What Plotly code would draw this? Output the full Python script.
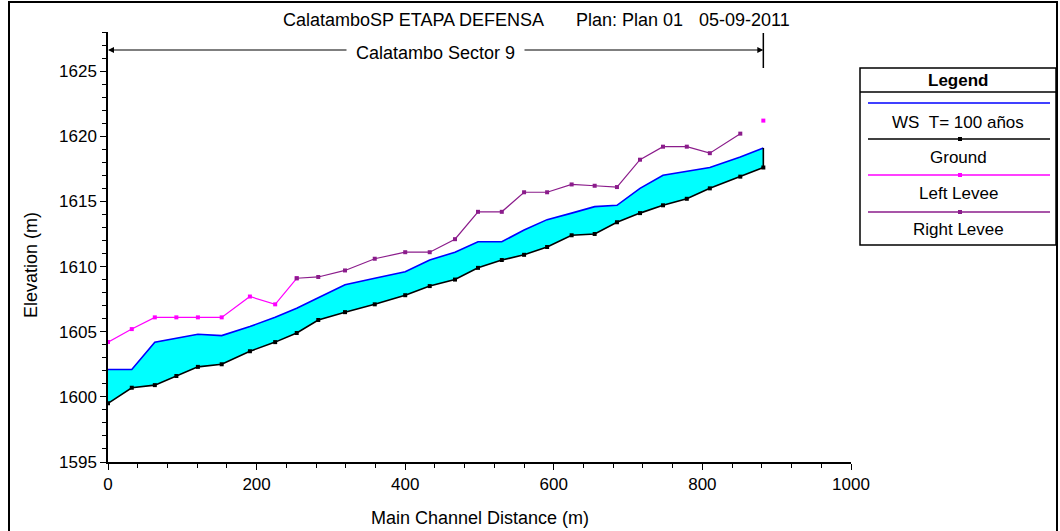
import plotly.graph_objects as go

# ---------------- data ----------------
stations = [0, 32, 63, 92, 121, 153, 191, 225, 254, 283, 319, 359, 400, 433, 467,
            498, 530, 560, 591, 624, 655, 685, 716, 747, 779, 810, 851, 882]
ground = [1599.5, 1600.7, 1600.9, 1601.6, 1602.3, 1602.5, 1603.5, 1604.2, 1604.9,
          1605.9, 1606.5, 1607.1, 1607.8, 1608.5, 1609.0, 1609.9, 1610.5, 1610.9,
          1611.5, 1612.4, 1612.5, 1613.4, 1614.1, 1614.7, 1615.2, 1616.0, 1616.9, 1617.6]
ws_100 = [1602.1, 1602.1, 1604.2, 1604.5, 1604.8, 1604.7, 1605.4, 1606.1, 1606.8,
          1607.6, 1608.6, 1609.1, 1609.6, 1610.5, 1611.1, 1611.9, 1611.9, 1612.8,
          1613.6, 1614.1, 1614.6, 1614.7, 1616.0, 1617.0, 1617.3, 1617.6, 1618.4, 1619.1]
left_levee = [1604.2, 1605.2, 1606.1, 1606.1, 1606.1, 1606.1, 1607.7, 1607.1, 1609.1,
              None, None, None, None, None, None, None, None, None, None, None, None,
              None, None, None, None, None, None, 1621.2]
right_levee = [None, None, None, None, None, None, None, None, 1609.1,
               1609.2, 1609.7, 1610.6, 1611.1, 1611.1, 1612.1, 1614.2, 1614.2, 1615.7,
               1615.7, 1616.3, 1616.2, 1616.1, 1618.2, 1619.2, 1619.2, 1618.7, 1620.2, None]

title_parts = ["CalatamboSP ETAPA DEFENSA", "Plan: Plan 01", "05-09-2011"]
reach_name = "Calatambo Sector 9"
legend_names = ["WS  T= 100 años", "Ground", "Left Levee", "Right Levee"]
x_ticks = [0, 200, 400, 600, 800, 1000]
y_ticks = [1595, 1600, 1605, 1610, 1615, 1620, 1625]

# ---------------- layout geometry ----------------
W, H = 1060, 531
L, R, T, B = 108, 209, 32, 69
PW, PH = W - L - R, H - T - B


def xp(px):
    return (px - L) / PW


def yp(py):
    return (H - B - py) / PH


FONT = "Liberation Sans, Arial, sans-serif"
FS_TICK = 17
FS_TXT = 18
FS_LEG = 17
BLUE, BLACK, MAGENTA, PURPLE, CYAN = "#0000FF", "#000000", "#FF00FF", "#8B1C8B", "#00FFFF"

fig = go.Figure()

fig.add_trace(go.Scatter(x=stations, y=ground, mode="lines+markers",
                         line=dict(color=BLACK, width=1.6),
                         marker=dict(symbol="square", size=4, color=BLACK),
                         name=legend_names[1], showlegend=False))
fig.add_trace(go.Scatter(x=stations, y=ws_100, mode="lines", fill="tonexty",
                         fillcolor=CYAN, line=dict(color=BLUE, width=1.6),
                         name=legend_names[0], showlegend=False))
fig.add_trace(go.Scatter(x=[stations[-1], stations[-1]], y=[ground[-1], ws_100[-1]],
                         mode="lines", line=dict(color=BLACK, width=1.6),
                         showlegend=False, hoverinfo="skip"))
fig.add_trace(go.Scatter(x=stations, y=left_levee, mode="lines+markers",
                         line=dict(color=MAGENTA, width=1.2), connectgaps=False,
                         marker=dict(symbol="square", size=4, color=MAGENTA),
                         name=legend_names[2], showlegend=False))
fig.add_trace(go.Scatter(x=stations, y=right_levee, mode="lines+markers",
                         line=dict(color=PURPLE, width=1.2), connectgaps=False,
                         marker=dict(symbol="square", size=4, color=PURPLE),
                         name=legend_names[3], showlegend=False))

shapes = []
annotations = []


def text_ann(txt, x, y, size, xref="paper", **kw):
    d = dict(text=txt, xref=xref, yref="paper", x=x, y=y, showarrow=False,
             xanchor="center", yanchor="middle",
             font=dict(family=FONT, size=size, color=BLACK))
    d.update(kw)
    return d


# outer frame
shapes.append(dict(type="rect", xref="paper", yref="paper",
                   x0=xp(9), x1=xp(1057), y0=yp(545), y1=yp(2),
                   line=dict(color=BLACK, width=2), fillcolor="rgba(0,0,0,0)", layer="above"))

# title
title_centers = [413, 629, 744]
for txt, cx in zip(title_parts, title_centers):
    annotations.append(text_ann(txt, xp(cx), yp(20), FS_TXT))

# reach bracket
mid = (stations[0] + stations[-1]) / 2
ybr = yp(50)
for end in (stations[0], stations[-1]):
    annotations.append(dict(text="", x=end, y=ybr, xref="x", yref="paper",
                            ax=mid, ay=0, axref="x", ayref="pixel",
                            showarrow=True, arrowhead=2, arrowsize=1, arrowwidth=1.2,
                            arrowcolor=BLACK, standoff=0))
annotations.append(text_ann(reach_name, mid, yp(53), FS_TXT, xref="x",
                            bgcolor="white", borderpad=9))
shapes.append(dict(type="line", xref="x", yref="paper", x0=stations[-1], x1=stations[-1],
                   y0=yp(68), y1=yp(33), line=dict(color=BLACK, width=1.5)))

# axis titles
annotations.append(text_ann("Main Channel Distance (m)", xp(480), yp(518), FS_TXT))
annotations.append(text_ann("Elevation (m)", xp(31), yp(265), FS_TXT, textangle=-90))

# custom legend box
lx0, lx1, ly0, ly1 = 860, 1056, 68, 245
shapes.append(dict(type="rect", xref="paper", yref="paper",
                   x0=xp(lx0), x1=xp(lx1), y0=yp(ly1), y1=yp(ly0),
                   line=dict(color=BLACK, width=1.5), fillcolor="white", layer="above"))
shapes.append(dict(type="line", xref="paper", yref="paper",
                   x0=xp(lx0), x1=xp(lx1), y0=yp(92), y1=yp(92),
                   line=dict(color=BLACK, width=1.5), layer="above"))
annotations.append(text_ann("<b>Legend</b>", xp(958), yp(80), FS_LEG))
leg_colors = [BLUE, BLACK, MAGENTA, PURPLE]
leg_line_y = [103, 139, 175, 212]
leg_text_y = [122, 157, 193, 229]
leg_marker = [False, True, True, True]
for name, col, ly, ty, mk in zip(legend_names, leg_colors, leg_line_y, leg_text_y, leg_marker):
    shapes.append(dict(type="line", xref="paper", yref="paper",
                       x0=xp(868), x1=xp(1050), y0=yp(ly), y1=yp(ly),
                       line=dict(color=col, width=1.6), layer="above"))
    if mk:
        shapes.append(dict(type="rect", xref="paper", yref="paper",
                           x0=xp(958), x1=xp(962), y0=yp(ly + 2), y1=yp(ly - 2),
                           line=dict(width=0), fillcolor=col, layer="above"))
    annotations.append(text_ann(name.replace("  ", "\u00a0\u00a0"), xp(958), yp(ty), FS_LEG))

fig.update_layout(
    width=W, height=H,
    margin=dict(l=L, r=R, t=T, b=B, pad=0),
    paper_bgcolor="white", plot_bgcolor="white",
    showlegend=False,
    shapes=shapes, annotations=annotations,
    font=dict(family=FONT, size=FS_TICK, color=BLACK),
    xaxis=dict(range=[0, 1000], tickvals=x_ticks, ticktext=[str(v) for v in x_ticks],
               showgrid=False, zeroline=False, showline=True, linecolor=BLACK, linewidth=1.5,
               ticks="outside", ticklen=6, tickwidth=1.2, tickcolor=BLACK,
               minor=dict(dtick=40, tick0=0, ticks="outside", ticklen=4, tickwidth=1.2,
                          tickcolor=BLACK, showgrid=False),
               tickfont=dict(family=FONT, size=FS_TICK, color=BLACK), fixedrange=True),
    yaxis=dict(range=[1595, 1628], tickvals=y_ticks, ticktext=[str(v) for v in y_ticks],
               showgrid=False, zeroline=False, showline=True, linecolor=BLACK, linewidth=1.5,
               ticks="outside", ticklen=6, tickwidth=1.2, tickcolor=BLACK,
               minor=dict(dtick=1, tick0=1595, ticks="outside", ticklen=4, tickwidth=1.2,
                          tickcolor=BLACK, showgrid=False),
               tickfont=dict(family=FONT, size=FS_TICK, color=BLACK), fixedrange=True),
)

fig.write_html("out.html",
               config={"displayModeBar": False},
               post_script="document.body.style.margin='0';document.body.style.overflow='hidden';")
